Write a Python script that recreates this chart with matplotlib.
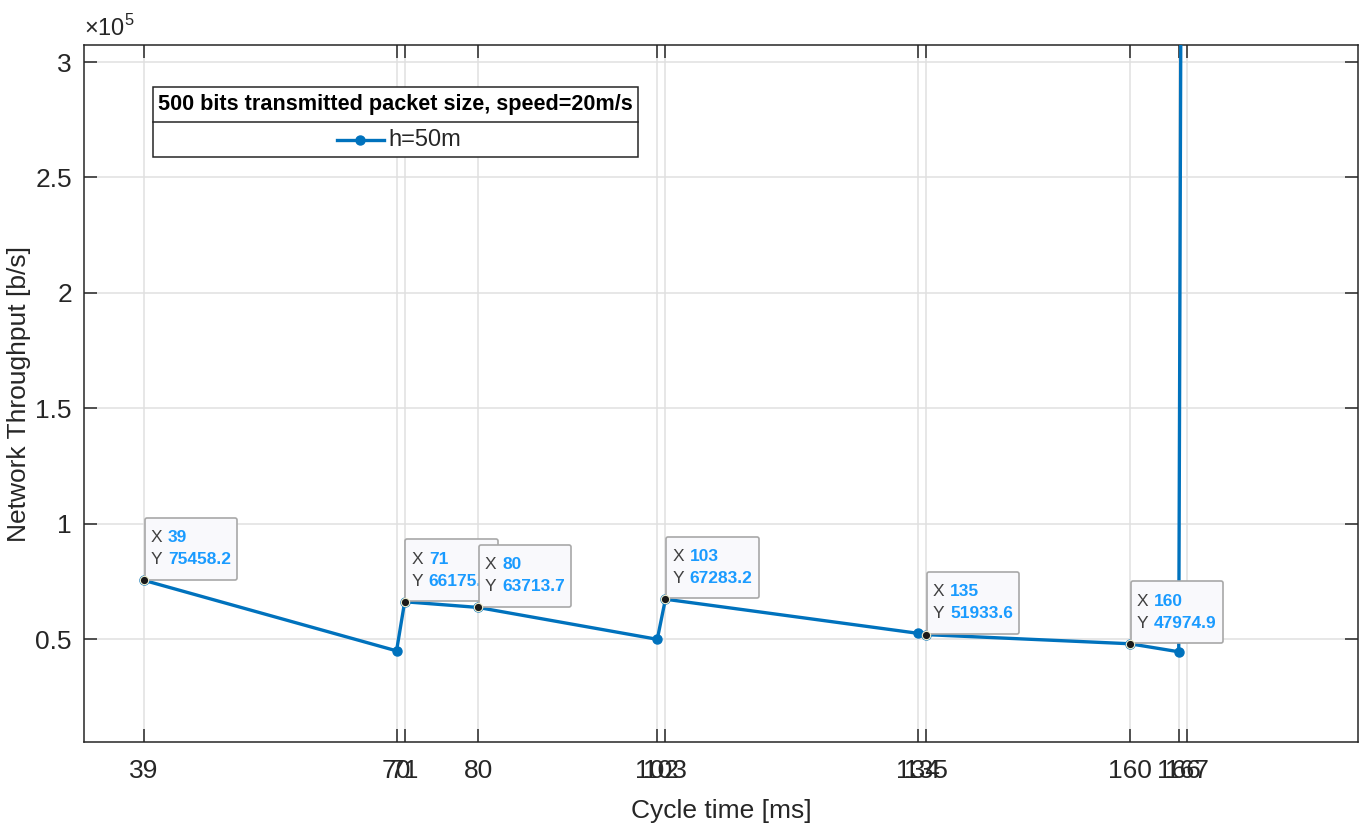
import numpy as np
import matplotlib.pyplot as plt
from matplotlib.offsetbox import TextArea, HPacker, VPacker, AnnotationBbox, DrawingArea
from matplotlib.patches import Rectangle
from matplotlib.lines import Line2D

plt.rcParams['font.family'] = ['Liberation Sans', 'DejaVu Sans']
plt.rcParams['mathtext.fontset'] = 'custom'
plt.rcParams['mathtext.rm'] = 'Liberation Sans'

#%% datos
ciclo = np.array([39, 70, 71, 80, 102, 103, 134, 135, 160, 166, 167])
throughput = np.array([75458.2, 44900, 66175.4, 63713.7, 49900, 67283.2,
                       52500, 51933.6, 47974.9, 44500, 1100000])
ciclo_tips = [39, 71, 80, 103, 135, 160]   # puntos con datatip
yticks = [50000, 100000, 150000, 200000, 250000, 300000]
titulo_leyenda = '500 bits transmitted packet size, speed=20m/s'
nombre_serie = 'h=50m'

azul = '#0072BD'
gris = '#262626'

#%% figura
fig = plt.figure(figsize=(13.67, 8.30), dpi=100)
ax = fig.add_axes([0.0618, 0.106, 0.9316, 0.8398])

ax.plot(ciclo, throughput, '.-', color=azul, lw=2.4, ms=13, zorder=3)

ax.set_xlim(31.7, 188)
ax.set_ylim(5400, 307400)
ax.set_xticks(ciclo)
ax.set_xticklabels([str(c) for c in ciclo])
ax.set_yticks(yticks)
ax.set_yticklabels(['%g' % (v / 1e5) for v in yticks])

ax.grid(True, color='#e0e0e0', lw=1.1, zorder=0)
ax.set_axisbelow(True)
ax.tick_params(direction='in', length=9.5, width=1.1, top=True, right=True,
               labelsize=19, colors=gris, pad=12)
ax.tick_params(axis='y', pad=9)
for s in ax.spines.values():
    s.set_color(gris)
    s.set_linewidth(1.1)

ax.set_xlabel('Cycle time [ms]', fontsize=19, color=gris, labelpad=12)
ax.set_ylabel('Network Throughput [b/s]', fontsize=19, color=gris)
ax.yaxis.set_label_coords(-0.042, 0.5)
ax.text(0.0, 1.006, r'$\times\mathrm{10}^{\mathrm{5}}$', transform=ax.transAxes, fontsize=17,
        color=gris, va='bottom', ha='left')

#%% datatips
for c in ciclo_tips:
    v = throughput[list(ciclo).index(c)]
    fila1 = HPacker(children=[TextArea('X', textprops=dict(color='#404040', fontsize=12.5)),
                              TextArea(str(c), textprops=dict(color='#1a9bff', fontsize=12.5, fontweight='bold'))],
                    sep=4, align='baseline')
    fila2 = HPacker(children=[TextArea('Y', textprops=dict(color='#404040', fontsize=12.5)),
                              TextArea('%g' % v, textprops=dict(color='#1a9bff', fontsize=12.5, fontweight='bold'))],
                    sep=4, align='baseline')
    filas = VPacker(children=[fila1, fila2], sep=5, pad=0, align='left')
    caja = VPacker(children=[DrawingArea(1, 4.5), filas, DrawingArea(1, 4.5)], sep=0, pad=0, align='left')
    ab = AnnotationBbox(caja, (c, v), xybox=(5, 5), xycoords='data',
                        boxcoords='offset points', box_alignment=(0, 0),
                        pad=0.45, frameon=True, zorder=5,
                        bboxprops=dict(boxstyle='round,pad=0.45,rounding_size=0.15',
                                       fc='#f9f9fc', ec='#a8a8a8', lw=1.2))
    ax.add_artist(ab)
    ax.plot(c, v, 'o', color='#1a1a1a', mec='#f0f0d0', mew=0.8, ms=6, zorder=6)

#%% leyenda dibujada a mano
x0, x1 = 0.0538, 0.4346
y0, y1, ysep = 0.8393, 0.9397, 0.8895
ax.add_patch(Rectangle((x0, y0), x1 - x0, y1 - y0, transform=ax.transAxes,
                       fc='white', ec=gris, lw=1.1, zorder=7))
ax.add_line(Line2D([x0, x1], [ysep, ysep], transform=ax.transAxes, color=gris,
                   lw=1.1, zorder=8))
ax.text((x0 + x1) / 2, (ysep + y1) / 2, titulo_leyenda, transform=ax.transAxes,
        ha='center', va='center', fontsize=15.6, fontweight='bold', color='black', zorder=8)
ax.add_line(Line2D([0.198, 0.235], [0.8635, 0.8635], transform=ax.transAxes,
                   color=azul, lw=2.4, zorder=8))
ax.add_line(Line2D([0.2165], [0.8635], transform=ax.transAxes, color=azul,
                   marker='.', ms=13, zorder=8))
ax.text(0.239, 0.8635, nombre_serie, transform=ax.transAxes, ha='left',
        va='center', fontsize=17, color=gris, zorder=8)

fig.savefig('out.png', dpi=100)
